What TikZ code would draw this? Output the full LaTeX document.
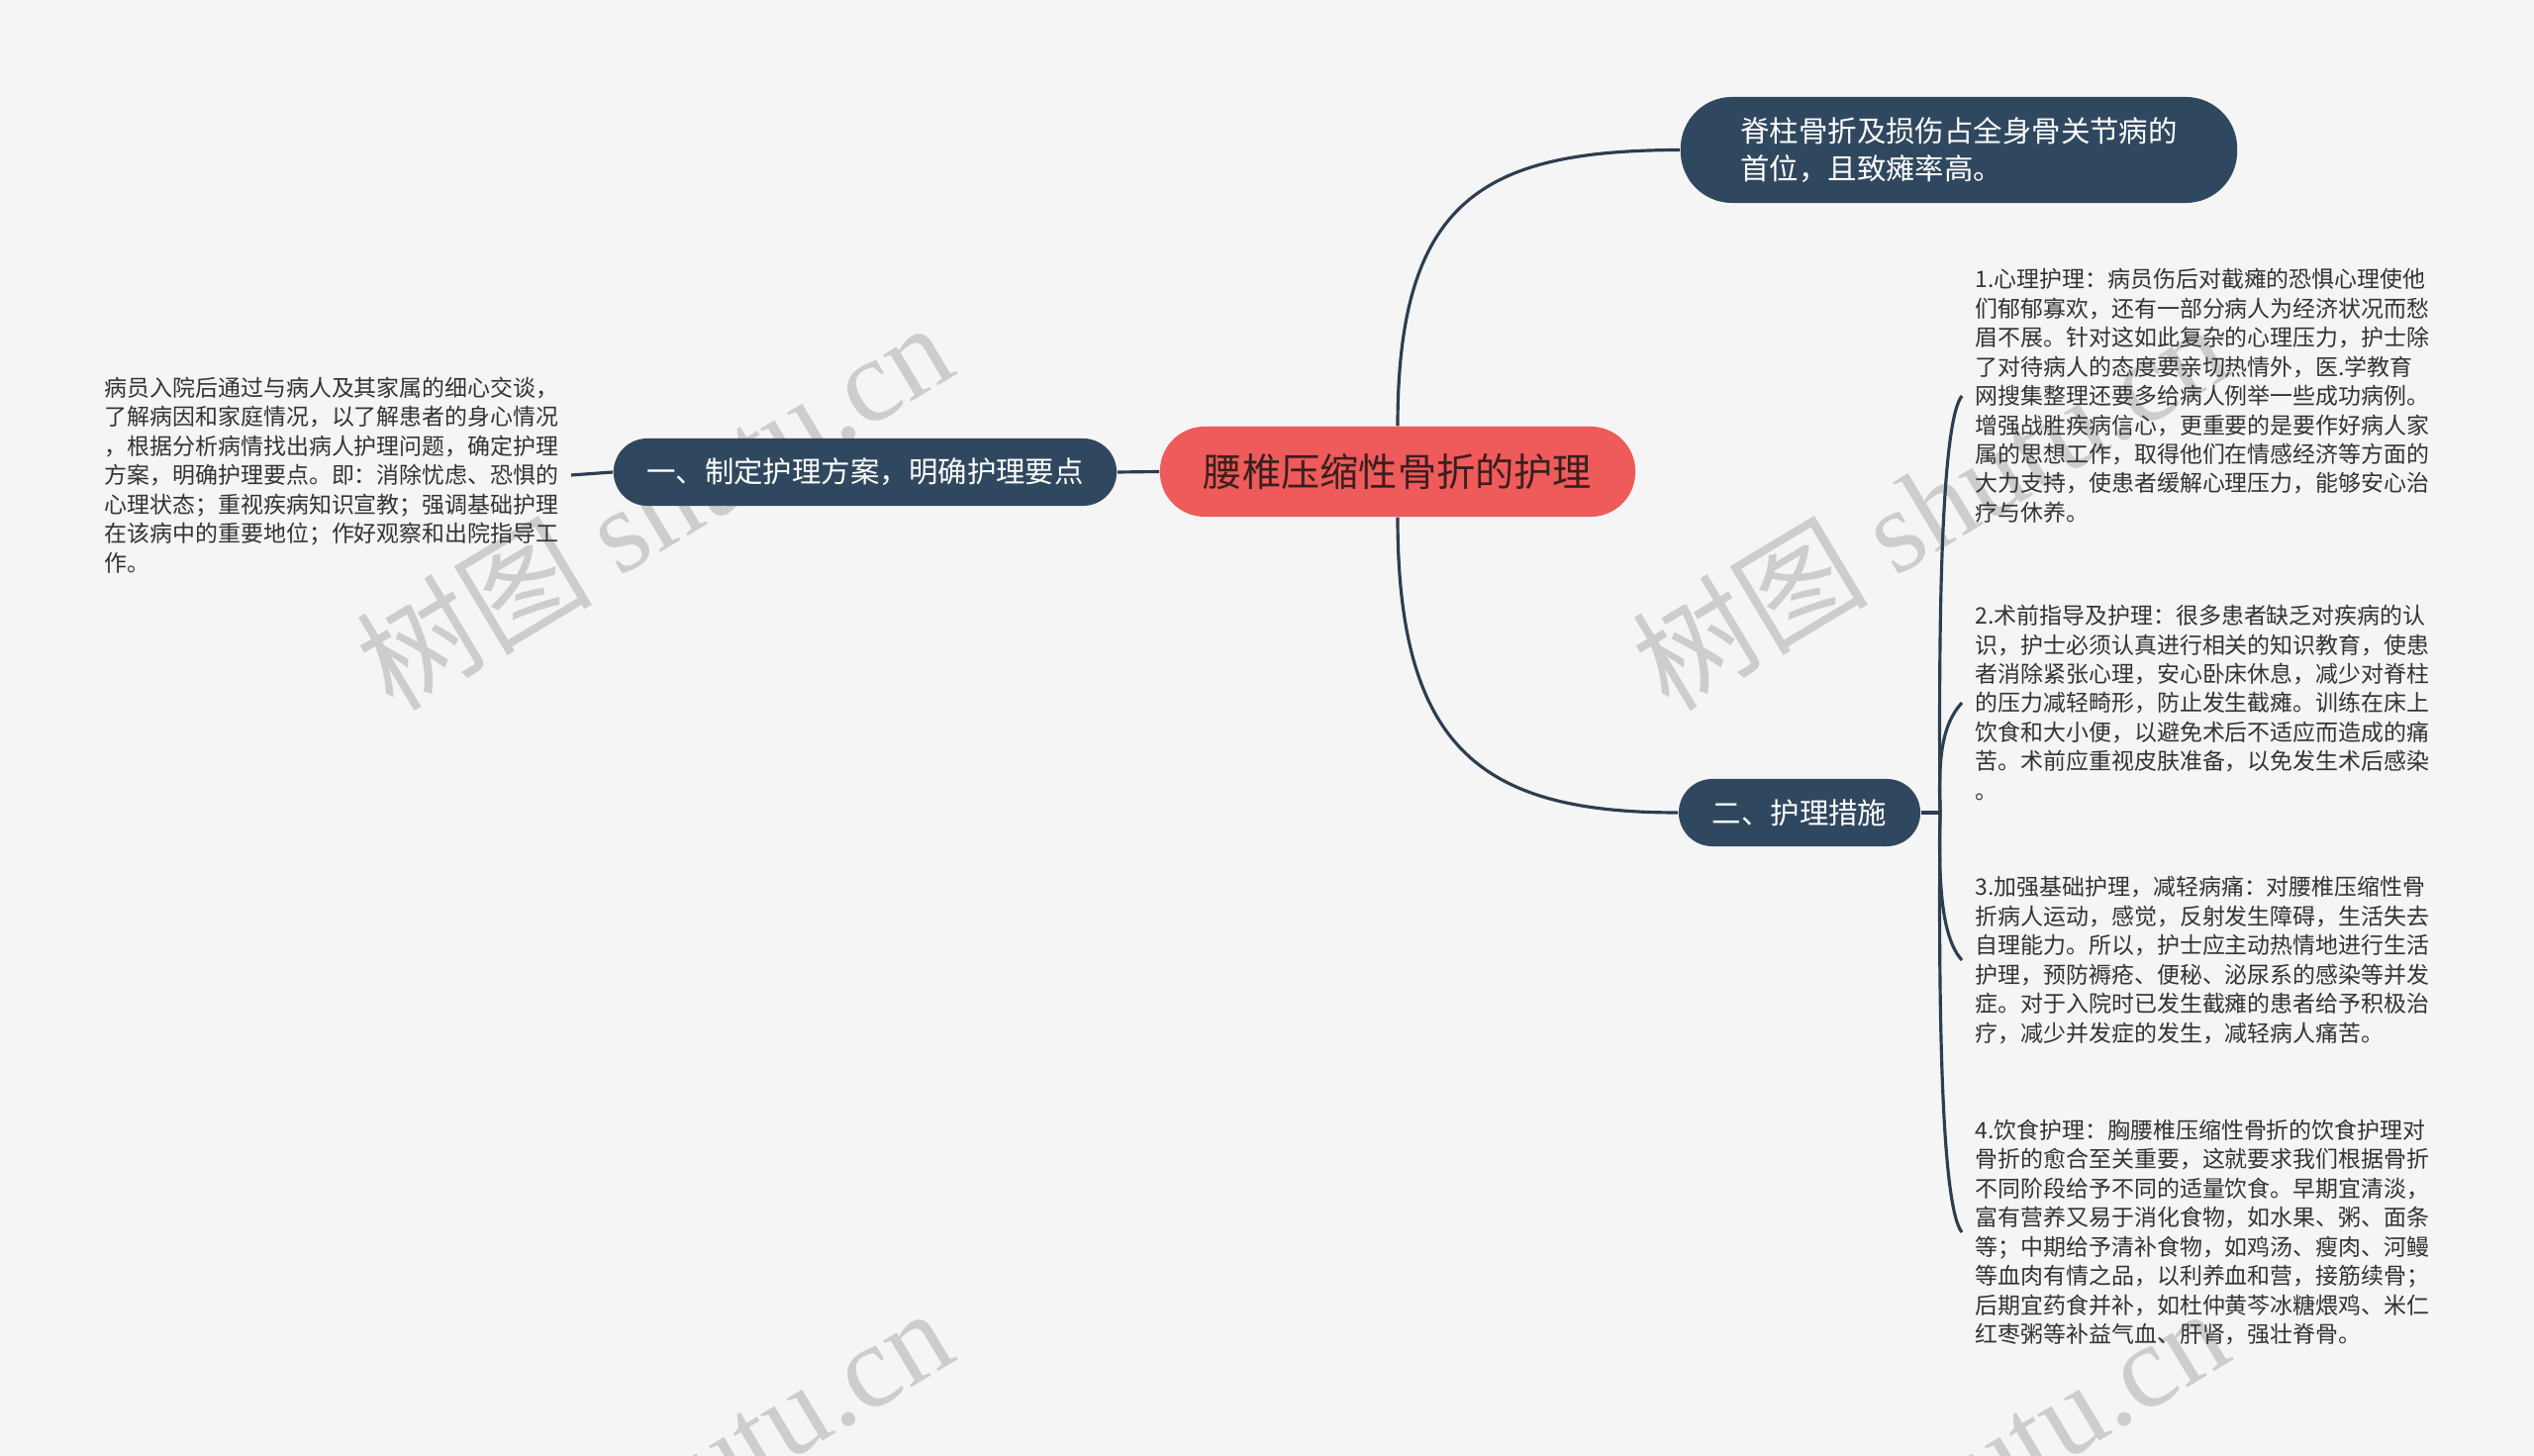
\documentclass[tikz,border=0pt]{standalone}
\usepackage{fontspec}
\setmainfont{Noto Sans CJK SC}
\newfontfamily\wmserif{Liberation Serif}
\usetikzlibrary{calc}
\definecolor{bgc}{HTML}{F5F5F5}
\definecolor{darkc}{HTML}{30485F}
\definecolor{linec}{HTML}{2C3E50}
\definecolor{redc}{HTML}{EF5A5A}
\definecolor{ctext}{HTML}{3A1F1F}
\definecolor{ptext}{HTML}{333333}
\definecolor{wmc}{HTML}{CDCDCD}
\begin{document}
\begin{tikzpicture}[x=0.01cm,y=-0.01cm,
  rootbox/.style={fill=redc, rounded corners=0.45cm, minimum width=4.8cm, minimum height=0.91cm,
    text=ctext, inner sep=0pt, font=\fontsize{11.15}{13}\selectfont},
  topicbox/.style={fill=darkc, text=white, inner sep=0pt, font=\fontsize{8.37}{10.8}\selectfont},
  paratext/.style={text=ptext, align=left, inner xsep=0.12cm, inner ysep=0pt,
    font=\fontsize{6.52}{8.37}\selectfont},
  conn/.style={draw=linec, line width=0.9pt},
  wmtext/.style={text=wmc, rotate=31, font=\fontsize{34}{40}\selectfont, inner sep=0pt}
]
\fill[bgc] (0,0) rectangle (2560,1471);
\useasboundingbox (0,0) rectangle (2560,1471);
\begin{scope}
\clip (0,0) rectangle (2560,1471);
\node[wmtext] (wm1) at (660,510) {树图 {\wmserif shutu.cn}};
\node[wmtext] (wm2) at (1949,510) {树图 {\wmserif shutu.cn}};
\node[wmtext] (wm3) at (660,1506) {树图 {\wmserif shutu.cn}};
\node[wmtext] (wm4) at (1949,1506) {树图 {\wmserif shutu.cn}};
\end{scope}

\node[rootbox] (root) at (1412,476.5) {腰椎压缩性骨折的护理};
\node[topicbox, minimum width=5.62cm, minimum height=1.07cm, rounded corners=0.52cm, align=left] (top) at (1979,151.5)
  {脊柱骨折及损伤占全身骨关节病的\\首位，且致瘫率高。};
\node[topicbox, minimum width=5.08cm, minimum height=0.68cm, rounded corners=0.34cm] (b1) at (874,477)
  {一、制定护理方案，明确护理要点};
\node[topicbox, minimum width=2.44cm, minimum height=0.68cm, rounded corners=0.34cm] (b2) at (1818,821)
  {二、护理措施};

\node[paratext, anchor=east] (lt) at (577,480) {病员入院后通过与病人及其家属的细心交谈，\\
了解病因和家庭情况，以了解患者的身心情况\\
，根据分析病情找出病人护理问题，确定护理\\
方案，明确护理要点。即：消除忧虑、恐惧的\\
心理状态；重视疾病知识宣教；强调基础护理\\
在该病中的重要地位；作好观察和出院指导工\\
作。};

\node[paratext, anchor=west, inner xsep=0.13cm] (p1) at (1982,400) {1.心理护理：病员伤后对截瘫的恐惧心理使他\\
们郁郁寡欢，还有一部分病人为经济状况而愁\\
眉不展。针对这如此复杂的心理压力，护士除\\
了对待病人的态度要亲切热情外，医.学教育\\
网搜集整理还要多给病人例举一些成功病例。\\
增强战胜疾病信心，更重要的是要作好病人家\\
属的思想工作，取得他们在情感经济等方面的\\
大力支持，使患者缓解心理压力，能够安心治\\
疗与休养。};

\node[paratext, anchor=west, inner xsep=0.13cm] (p2) at (1982,710) {2.术前指导及护理：很多患者缺乏对疾病的认\\
识，护士必须认真进行相关的知识教育，使患\\
者消除紧张心理，安心卧床休息，减少对脊柱\\
的压力减轻畸形，防止发生截瘫。训练在床上\\
饮食和大小便，以避免术后不适应而造成的痛\\
苦。术前应重视皮肤准备，以免发生术后感染\\
。};

\node[paratext, anchor=west, inner xsep=0.13cm] (p3) at (1982,970) {3.加强基础护理，减轻病痛：对腰椎压缩性骨\\
折病人运动，感觉，反射发生障碍，生活失去\\
自理能力。所以，护士应主动热情地进行生活\\
护理，预防褥疮、便秘、泌尿系的感染等并发\\
症。对于入院时已发生截瘫的患者给予积极治\\
疗，减少并发症的发生，减轻病人痛苦。};

\node[paratext, anchor=west, inner xsep=0.13cm] (p4) at (1982,1245) {4.饮食护理：胸腰椎压缩性骨折的饮食护理对\\
骨折的愈合至关重要，这就要求我们根据骨折\\
不同阶段给予不同的适量饮食。早期宜清淡，\\
富有营养又易于消化食物，如水果、粥、面条\\
等；中期给予清补食物，如鸡汤、瘦肉、河鳗\\
等血肉有情之品，以利养血和营，接筋续骨；\\
后期宜药食并补，如杜仲黄芩冰糖煨鸡、米仁\\
红枣粥等补益气血、肝肾，强壮脊骨。};

\draw[conn] (root.west) -- (b1.east);
\draw[conn] (b1.west) -- (lt.east);
\draw[conn] (root.north) .. controls (1412,200) and (1500,152) .. (top.west);
\draw[conn] (root.south) .. controls (1412,760) and (1500,821) .. (b2.west);
\coordinate (j) at (1960,821);
\draw[conn] (b2.east) -- (j);
\draw[conn] (j) .. controls (1958,610) and ($(p1.west)+(-20,25)$) .. (p1.west);
\draw[conn] (j) .. controls (1958,765) and ($(p2.west)+(-20,22)$) .. (p2.west);
\draw[conn] (j) .. controls (1958,895) and ($(p3.west)+(-20,-22)$) .. (p3.west);
\draw[conn] (j) .. controls (1958,1033) and ($(p4.west)+(-20,-25)$) .. (p4.west);
\end{tikzpicture}
\end{document}
